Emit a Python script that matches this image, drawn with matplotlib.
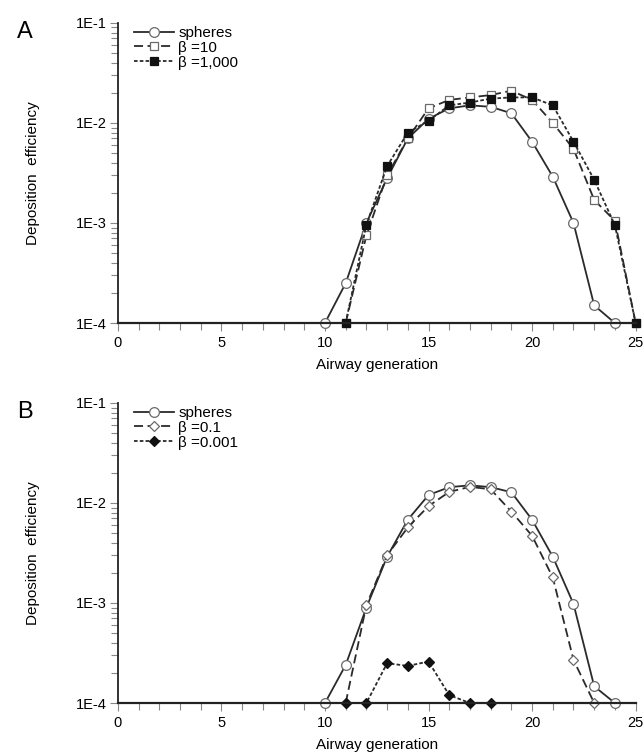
import matplotlib
matplotlib.use("Agg")
import matplotlib.pyplot as plt
from matplotlib.ticker import LogLocator, FixedLocator, NullFormatter

plt.rcParams['font.family'] = ['Liberation Sans', 'DejaVu Sans']

# panel A
gen_sph_a = list(range(10, 25))
sph_a = [1e-4, 2.5e-4, 1.0e-3, 2.8e-3, 7.0e-3, 1.1e-2, 1.4e-2, 1.5e-2,
         1.45e-2, 1.25e-2, 6.5e-3, 2.9e-3, 1.0e-3, 1.5e-4, 1e-4]
gen_beta_a = list(range(11, 26))
beta10 = [1e-4, 7.5e-4, 3.0e-3, 7.0e-3, 1.4e-2, 1.7e-2, 1.8e-2, 1.9e-2,
          2.1e-2, 1.7e-2, 1.0e-2, 5.5e-3, 1.7e-3, 1.05e-3, 1e-4]
beta1000 = [1e-4, 9.6e-4, 3.7e-3, 8.0e-3, 1.05e-2, 1.5e-2, 1.6e-2, 1.75e-2,
            1.8e-2, 1.8e-2, 1.5e-2, 6.5e-3, 2.7e-3, 9.5e-4, 1e-4]

# panel B
gen_sph_b = list(range(10, 25))
sph_b = [1e-4, 2.4e-4, 9.0e-4, 2.9e-3, 6.8e-3, 1.2e-2, 1.44e-2, 1.5e-2,
         1.44e-2, 1.28e-2, 6.8e-3, 2.9e-3, 9.8e-4, 1.47e-4, 1e-4]
gen_b01 = list(range(11, 24))
beta01 = [1e-4, 9.5e-4, 3.0e-3, 5.7e-3, 9.3e-3, 1.29e-2, 1.45e-2, 1.37e-2,
          8.2e-3, 4.7e-3, 1.8e-3, 2.7e-4, 1e-4]
gen_b0001 = list(range(11, 19))
beta0001 = [1e-4, 1e-4, 2.5e-4, 2.35e-4, 2.6e-4, 1.2e-4, 1e-4, 1e-4]

xticks = [0, 5, 10, 15, 20, 25]
yticks = [1e-4, 1e-3, 1e-2, 1e-1]
ytick_labels = ['1E-4', '1E-3', '1E-2', '1E-1']

line_col = '#2a2a2a'
edge_col = '#6a6a6a'


def style_axes(ax):
    ax.set_yscale('log')
    ax.set_xlim(0, 25)
    ax.set_ylim(1e-4, 1e-1)
    ax.spines['top'].set_visible(False)
    ax.spines['right'].set_visible(False)
    ax.spines['left'].set_linewidth(1.3)
    ax.spines['bottom'].set_linewidth(1.6)
    ax.spines['left'].set_color('#222222')
    ax.spines['bottom'].set_color('#222222')
    ax.set_xticks(xticks)
    ax.xaxis.set_minor_locator(FixedLocator(range(0, 26)))
    ax.set_yticks(yticks)
    ax.set_yticklabels(ytick_labels)
    ax.yaxis.set_minor_locator(LogLocator(base=10, subs=range(2, 10)))
    ax.yaxis.set_minor_formatter(NullFormatter())
    ax.tick_params(axis='both', which='both', direction='out', color='#888888',
                   labelsize=10.5, width=0.8)
    ax.tick_params(axis='both', which='major', length=6)
    ax.tick_params(axis='both', which='minor', length=5)
    ax.tick_params(axis='x', pad=3)
    ax.tick_params(axis='y', pad=2)
    ax.set_xlabel('Airway generation', fontsize=11, labelpad=6)
    ax.set_ylabel('Deposition  efficiency', fontsize=11, labelpad=26)


def plot_series(ax, x, y, ls, marker, fc, label, ms=7):
    ax.plot(x, y, color=line_col, linestyle=ls, linewidth=1.3, marker=marker,
            markersize=ms, markerfacecolor=fc,
            markeredgecolor=edge_col if fc == 'white' else '#111111',
            markeredgewidth=0.9, label=label, clip_on=False)


fig = plt.figure(figsize=(6.44, 7.54), dpi=100)
ax1 = fig.add_axes([0.183, 0.5716, 0.804, 0.398])
ax2 = fig.add_axes([0.183, 0.0676, 0.804, 0.398])

plot_series(ax1, gen_sph_a, sph_a, '-', 'o', 'white', 'spheres')
plot_series(ax1, gen_beta_a, beta10, (0, (5, 2.5)), 's', 'white', 'β =10', ms=6)
plot_series(ax1, gen_beta_a, beta1000, (0, (2, 1.2)), 's', '#111111', 'β =1,000', ms=6)

plot_series(ax2, gen_sph_b, sph_b, '-', 'o', 'white', 'spheres')
plot_series(ax2, gen_b01, beta01, (0, (5, 2.5)), 'D', 'white', 'β =0.1', ms=5.5)
plot_series(ax2, gen_b0001, beta0001, (0, (2, 1.2)), 'D', '#111111', 'β =0.001', ms=5.5)

for ax, letter in [(ax1, 'A'), (ax2, 'B')]:
    style_axes(ax)
    ax.legend(loc='upper left', bbox_to_anchor=(0.025, 1.0), frameon=False,
              fontsize=11, handlelength=2.6, handletextpad=0.3,
              labelspacing=0.05, borderaxespad=0.0, borderpad=0.2)
    ax.text(-0.195, 0.97, letter, transform=ax.transAxes, fontsize=17,
            ha='left', va='center')

fig.savefig('out.png', dpi=100)
